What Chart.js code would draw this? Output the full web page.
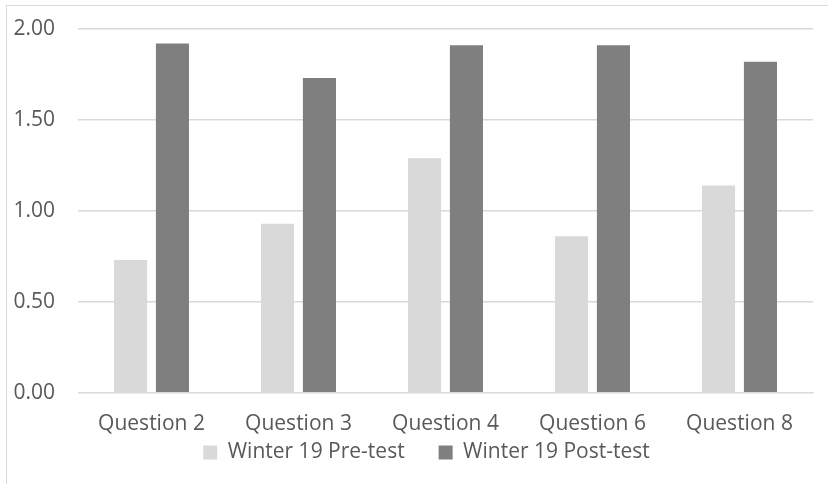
<!DOCTYPE html>
<html>
<head>
<meta charset="utf-8">
<script src="https://cdn.jsdelivr.net/npm/chart.js@4"></script>
<style>
    html, body { margin: 0; padding: 0; background: #fff; }
    #wrap { position: relative; width: 828px; height: 484px; overflow: hidden; }
    #frame {
        position: absolute; left: 6px; top: 5px;
        width: 840px; height: 500px;
        border: 1px solid #d9d9d9;
    }
    canvas { position: absolute; left: 0; top: 0; }
</style>
</head>
<body>
<div id="wrap">
    <div id="frame"></div>
    <canvas id="chart-scores" width="828" height="484"></canvas>
</div>
<script>
const questions = ['Question 2', 'Question 3', 'Question 4', 'Question 6', 'Question 8'];
const preTest = [0.73, 0.93, 1.29, 0.86, 1.14];
const postTest = [1.92, 1.73, 1.91, 1.91, 1.82];
const seriesNames = ['Winter 19 Pre-test', 'Winter 19 Post-test'];

const textColor = '#595959';
const gridColor = '#d9d9d9';
const fontFamily = "'Open Sans', sans-serif";
const fontSize = 21;

// Legend sits a bit right of centre in the original and closer to the
// axis labels than Chart.js would put it with the wide item spacing
const legendTweak = {
    id: 'legendTweak',
    beforeInit(chart) {
        const legend = chart.legend;
        const fit = legend.fit;
        legend.fit = function () {
            fit.call(this);
            this.height = 28;
        };
        const draw = legend.draw;
        legend.draw = function () {
            const dx = 15, dy = -48;
            this.left += dx; this.right += dx;
            this.top += dy;
            draw.call(this);
            this.left -= dx; this.right -= dx;
            this.top -= dy;
        };
    }
};

const ctx = document.getElementById('chart-scores');

new Chart(ctx, {
    type: 'bar',
    data: {
        labels: questions,
        datasets: [
            {
                label: seriesNames[0],
                data: preTest,
                backgroundColor: '#d9d9d9',
                categoryPercentage: 0.57,
                barPercentage: 0.79
            },
            {
                label: seriesNames[1],
                data: postTest,
                backgroundColor: '#7f7f7f',
                categoryPercentage: 0.57,
                barPercentage: 0.79
            }
        ]
    },
    options: {
        responsive: false,
        animation: false,
        layout: {
            padding: { left: 10, right: 15, top: 29, bottom: 0 }
        },
        plugins: {
            legend: {
                position: 'bottom',
                labels: {
                    color: textColor,
                    font: { family: fontFamily, size: fontSize },
                    boxWidth: 14,
                    boxHeight: 14,
                    padding: 34
                }
            },
            tooltip: { enabled: false }
        },
        scales: {
            x: {
                grid: { display: false, drawTicks: false },
                border: { color: gridColor, width: 1 },
                ticks: {
                    color: textColor,
                    font: { family: fontFamily, size: fontSize },
                    padding: 19,
                    maxRotation: 0
                }
            },
            y: {
                min: 0,
                max: 2,
                afterFit: (scale) => {
                    scale.width = 68;
                    scale.paddingTop = 0;
                    scale.paddingBottom = 0;
                },
                grid: { color: gridColor, lineWidth: 1.5, drawTicks: false },
                border: { display: false },
                ticks: {
                    stepSize: 0.5,
                    color: textColor,
                    font: { family: fontFamily, size: fontSize },
                    padding: 23,
                    callback: (v) => v.toFixed(2)
                }
            }
        }
    },
    plugins: [legendTweak]
});
</script>
</body>
</html>
